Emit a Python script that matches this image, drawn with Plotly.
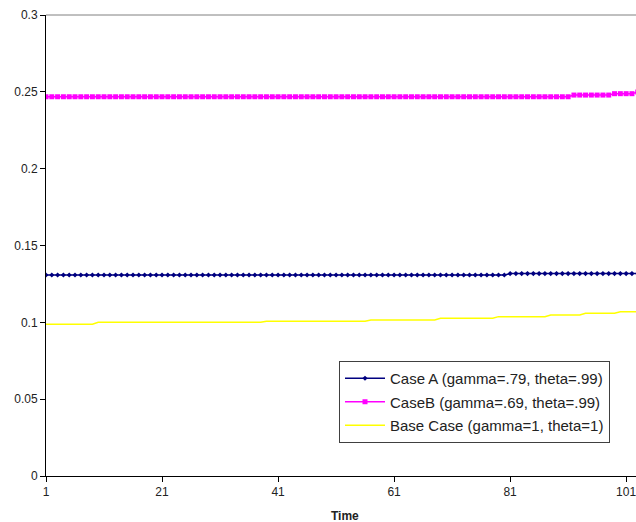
import plotly.graph_objects as go

# Time axis
time = list(range(1, 104))

# Series read as runs of (value, number of time steps)
case_a_runs = [(0.1308, 80), (0.1317, 23)]
case_b_runs = [(0.2468, 91), (0.2479, 7), (0.2488, 4), (0.2499, 1)]
base_runs = [(0.0988, 9), (0.1001, 29), (0.1007, 18), (0.1015, 12), (0.1026, 10),
             (0.1037, 9), (0.1048, 6), (0.1059, 6), (0.1069, 4)]

x_ticks = [1, 21, 41, 61, 81, 101]
y_ticks = [0, 0.05, 0.1, 0.15, 0.2, 0.25, 0.3]
y_labels = ["0", "0.05", "0.1", "0.15", "0.2", "0.25", "0.3"]


def expand(runs):
    out = []
    for v, n in runs:
        out.extend([v] * n)
    return out


case_a = expand(case_a_runs)
case_b = expand(case_b_runs)
base = expand(base_runs)

fig = go.Figure()
fig.add_trace(go.Scatter(x=time, y=case_a, mode="lines+markers",
                         name="Case A (gamma=.79, theta=.99)", legendgroup="a",
                         line=dict(color="#000080", width=1.5),
                         marker=dict(color="#000080", size=4, symbol="diamond")))
fig.add_trace(go.Scatter(x=time, y=case_b, mode="lines+markers",
                         name="CaseB (gamma=.69, theta=.99)", legendgroup="b",
                         line=dict(color="#FF00FF", width=1.5),
                         marker=dict(color="#FF00FF", size=5, symbol="square")))
fig.add_trace(go.Scatter(x=time, y=base, mode="lines",
                         name="Base Case (gamma=1, theta=1)", legendgroup="c",
                         line=dict(color="#FFFF00", width=1.5)))

fig.update_layout(
    width=636, height=522,
    margin=dict(l=46, r=0, t=15, b=46, pad=0),
    paper_bgcolor="white", plot_bgcolor="white",
    font=dict(family="Liberation Sans, Arial, sans-serif", size=12, color="#222222"),
    showlegend=True,
    legend=dict(x=(339 - 46) / 590, y=(476 - 361) / 461,
                xanchor="left", yanchor="top",
                bgcolor="white", bordercolor="#404040", borderwidth=1,
                font=dict(size=15, color="#222222"), tracegroupgap=1,
                itemwidth=40),
)

fig.update_xaxes(range=[1, 102.7], tickmode="array", tickvals=x_ticks,
                 ticklabeloverflow="allow",
                 showgrid=False, zeroline=False, showline=True, linecolor="black",
                 linewidth=1, ticks="outside", ticklen=5, tickcolor="black")
fig.update_yaxes(range=[0, 0.3], tickmode="array",
                 tickvals=y_ticks, ticktext=y_labels,
                 showgrid=False, zeroline=False, showline=True, linecolor="black",
                 linewidth=1, ticks="outside", ticklen=5, tickcolor="black")

fig.add_shape(type="line", xref="paper", yref="paper", x0=0, x1=1, y0=1, y1=1,
              line=dict(color="#808080", width=1))
fig.add_annotation(text="<b>Time</b>", xref="paper", yref="paper",
                   x=(345 - 46) / 590, y=-(516 - 476) / 461, showarrow=False,
                   xanchor="center", yanchor="middle",
                   font=dict(size=12, color="#222222"))

fig.write_html("out.html")
